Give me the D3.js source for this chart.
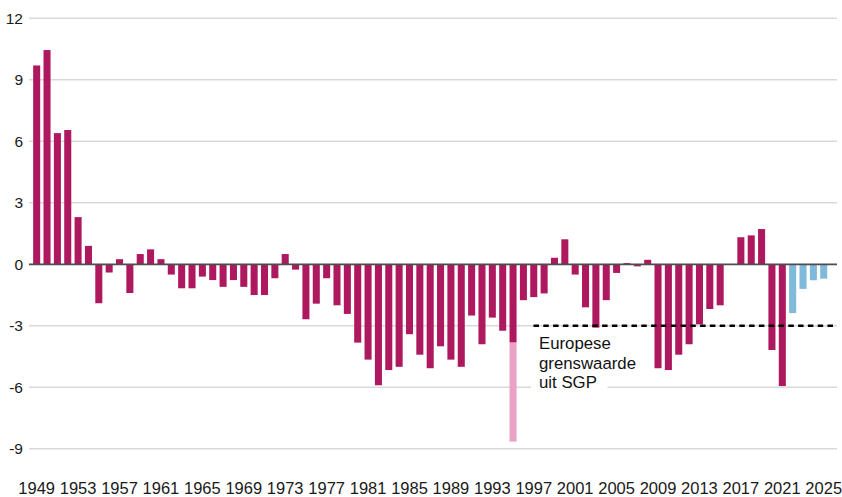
<!DOCTYPE html>
<html>
<head>
<meta charset="utf-8">
<script src="https://cdn.jsdelivr.net/npm/d3@7"></script>
<style>
  html, body { margin: 0; padding: 0; background: #fff; }
  svg { display: block; }
</style>
</head>
<body>
<svg id="chart" width="842" height="497"></svg>
<script>
// begrotingssaldo in % bbp
const years = d3.range(1949, 2026)
const saldo = [
  9.7, 10.45, 6.4, 6.55, 2.3, 0.9, -1.9, -0.4, 0.25, -1.4,
  0.5, 0.73, 0.25, -0.5, -1.17, -1.17, -0.6, -0.77, -1.1, -0.77,
  -1.1, -1.5, -1.5, -0.68, 0.5, -0.26, -2.68, -1.92, -0.68, -2.0,
  -2.42, -3.82, -4.65, -5.9, -5.16, -5.0, -3.41, -4.41, -5.07, -4.0,
  -4.65, -5.0, -2.5, -3.9, -2.6, -3.24, -3.82, -1.75, -1.6, -1.42,
  0.32, 1.22, -0.5, -2.1, -3.09, -1.75, -0.42, 0.06, -0.1, 0.22,
  -5.07, -5.16, -4.41, -3.9, -2.93, -2.18, -2.0, 0, 1.32, 1.41,
  1.72, -4.18, -5.94, -2.38, -1.2, -0.78, -0.7
]
// eenmalige post bovenop het saldo
const eenmaligJaar = [1995]
const eenmaligWaarde = [-4.83]
const ramingVanaf = 2022
const yTicks = [12, 9, 6, 3, 0, -3, -6, -9]
const xTickYears = d3.range(1949, 2026, 4)
const sgpGrens = -3
const labelLines = ['Europese', 'grenswaarde', 'uit SGP']

const svg = d3.select('#chart')

const x = d3.scaleBand()
  .domain(years)
  .range([31.5, 828.9])
  .paddingInner(0.32)
  .paddingOuter(0.16)

const y = d3.scaleLinear()
  .domain([-9, 12])
  .range([448.8, 18.3])

const gridX0 = 29
const gridX1 = 837

// gridlines
svg.append('g')
  .selectAll('line')
  .data(yTicks.filter((d) => d !== 0))
  .join('line')
  .attr('x1', gridX0)
  .attr('x2', gridX1)
  .attr('y1', (d) => y(d))
  .attr('y2', (d) => y(d))
  .attr('stroke', '#d9d9d9')
  .attr('stroke-width', 1.6)

// y labels
svg.append('g')
  .selectAll('text')
  .data(yTicks)
  .join('text')
  .attr('x', 23)
  .attr('y', (d) => y(d))
  .attr('dy', '0.35em')
  .attr('text-anchor', 'end')
  .attr('fill', '#1a1a1a')
  .attr('font-size', 15.5)
  .attr('font-family', 'Liberation Sans, Arial, sans-serif')
  .text((d) => d)

// bars
const bars = years.map((yr, i) => ({ year: yr, value: saldo[i] }))

svg.append('g')
  .selectAll('rect')
  .data(bars)
  .join('rect')
  .attr('x', (d) => x(d.year))
  .attr('width', x.bandwidth())
  .attr('y', (d) => y(Math.max(0, d.value)))
  .attr('height', (d) => Math.abs(y(d.value) - y(0)))
  .attr('fill', (d) => (d.year >= ramingVanaf ? '#7fbadb' : '#ad185e'))

// eenmalige post
svg.append('g')
  .selectAll('rect')
  .data(eenmaligJaar.map((yr, i) => ({ year: yr, base: saldo[years.indexOf(yr)], value: eenmaligWaarde[i] })))
  .join('rect')
  .attr('x', (d) => x(d.year))
  .attr('width', x.bandwidth())
  .attr('y', (d) => y(d.base))
  .attr('height', (d) => y(d.base + d.value) - y(d.base))
  .attr('fill', '#e9a2c3')

// zero line
svg.append('line')
  .attr('x1', gridX0)
  .attr('x2', gridX1)
  .attr('y1', y(0))
  .attr('y2', y(0))
  .attr('stroke', '#4d4d4d')
  .attr('stroke-width', 1.8)

// SGP grens
svg.append('line')
  .attr('x1', 533.5)
  .attr('x2', gridX1)
  .attr('y1', y(sgpGrens))
  .attr('y2', y(sgpGrens))
  .attr('stroke', '#000')
  .attr('stroke-width', 2.6)
  .attr('stroke-dasharray', '5.5 4.3')

svg.append('rect')
  .attr('x', 531)
  .attr('y', 372)
  .attr('width', 76.5)
  .attr('height', 22)
  .attr('fill', '#fff')

svg.append('g')
  .selectAll('text')
  .data(labelLines)
  .join('text')
  .attr('x', 539)
  .attr('y', (_, i) => 349.3 + i * 19.4)
  .attr('fill', '#111')
  .attr('font-size', 16.8)
  .attr('font-family', 'Liberation Sans, Arial, sans-serif')
  .text((d) => d)

// x labels
svg.append('g')
  .selectAll('text')
  .data(xTickYears)
  .join('text')
  .attr('x', (d) => x(d) + x.bandwidth() / 2)
  .attr('y', 493.5)
  .attr('text-anchor', 'middle')
  .attr('fill', '#1a1a1a')
  .attr('font-size', 16.5)
  .attr('font-family', 'Liberation Sans Narrow, Arial Narrow, sans-serif')
  .text((d) => d)
</script>
</body>
</html>
